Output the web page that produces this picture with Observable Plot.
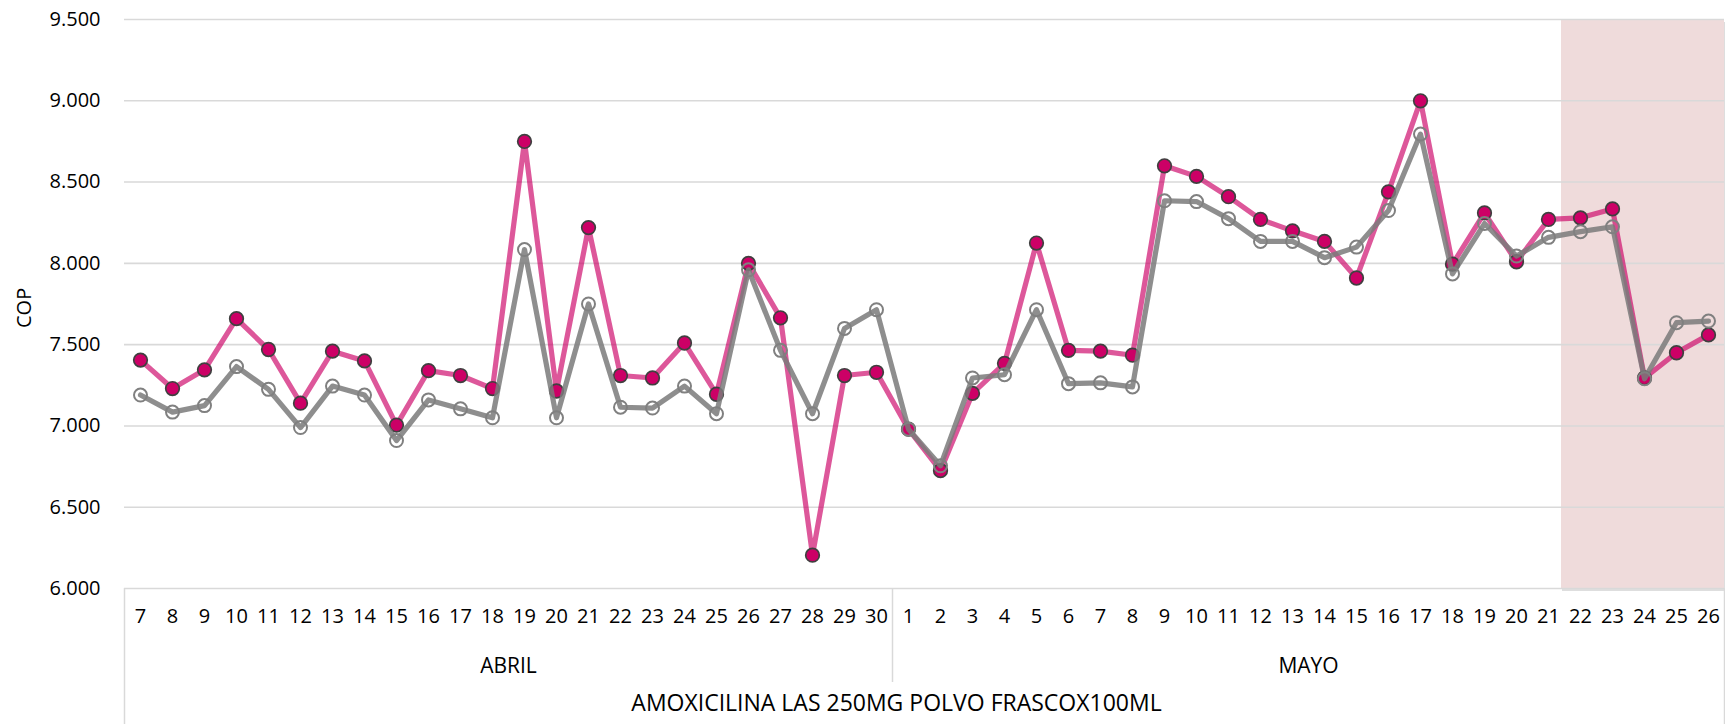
<!DOCTYPE html>
<html><head><meta charset="utf-8">
<script src="https://cdn.jsdelivr.net/npm/d3@7"></script>
<script src="https://cdn.jsdelivr.net/npm/@observablehq/plot@0.6"></script>
<style>body{margin:0;background:#fff} svg{display:block}</style>
</head><body><div id="chart"></div>
<script>
// ---- data ----
const meses = ["ABRIL", "MAYO"];
const diasAbril = [7,8,9,10,11,12,13,14,15,16,17,18,19,20,21,22,23,24,25,26,27,28,29,30];
const diasMayo = [1,2,3,4,5,6,7,8,9,10,11,12,13,14,15,16,17,18,19,20,21,22,23,24,25,26];
const producto = "AMOXICILINA LAS 250MG POLVO FRASCOX100ML";
const serieRosa = [7405,7230,7345,7660,7470,7140,7460,7400,7005,7340,7310,7230,8750,7215,8220,7310,7295,7510,7195,8000,7665,6205,7310,7330,
                   6980,6725,7200,7385,8125,7465,7460,7435,8600,8535,8410,8270,8200,8135,7910,8440,9000,7995,8310,8010,8270,8280,8335,7295,7450,7560];
const serieGris = [7190,7085,7125,7365,7225,6990,7245,7190,6910,7160,7105,7050,8085,7050,7750,7115,7110,7245,7075,7960,7465,7075,7600,7715,
                   6980,6755,7295,7315,7715,7260,7265,7240,8385,8380,8275,8135,8135,8035,8100,8325,8795,7935,8245,8045,8160,8195,8225,7290,7635,7645];
const yTicks = [6000,6500,7000,7500,8000,8500,9000,9500];
const yTitulo = "COP";
const resaltado = {mes: "MAYO", desde: 22, hasta: 26};

// ---- derived tables ----
const cats = [
  ...diasAbril.map(d => ({mes: "ABRIL", dia: d})),
  ...diasMayo.map(d => ({mes: "MAYO", dia: d}))
].map((c, i) => ({...c, i}));
const rosa = cats.map((c, i) => ({i, v: serieRosa[i]}));
const gris = cats.map((c, i) => ({i, v: serieGris[i]}));
const grupos = meses.map(m => {
  const idx = cats.filter(c => c.mes === m).map(c => c.i);
  return {mes: m, ini: d3.min(idx), fin: d3.max(idx), centro: (d3.min(idx) + d3.max(idx)) / 2};
});
const n = cats.length;
const hl = {
  x1: cats.find(c => c.mes === resaltado.mes && c.dia === resaltado.desde).i - 0.5,
  x2: cats.find(c => c.mes === resaltado.mes && c.dia === resaltado.hasta).i + 0.5
};
const bordesExt = [-0.5, n - 0.5];
const bordesMes = grupos.slice(0, -1).map(g => g.fin + 0.5);

const fmt = d => d3.format(",")(d).replace(/,/g, ".");

const chart = Plot.plot({
  width: 1725,
  height: 724,
  marginLeft: 124,
  marginRight: 1,
  marginTop: 19,
  marginBottom: 136,
  style: {fontFamily: "'Open Sans', sans-serif", fontSize: "20px", color: "#000", background: "#fff"},
  x: {type: "linear", domain: [-0.5, n - 0.5], axis: null},
  y: {domain: [6000, 9500], ticks: yTicks, tickFormat: fmt, tickSize: 0, tickPadding: 24, label: null},
  marks: [
    // highlighted range (shadow + box)
    Plot.rect([hl], {x1: "x1", x2: "x2", y1: 6000, y2: 9500, fill: "#000", fillOpacity: 0.13, dy: 3, dx: 1, insetLeft: -3}),
    Plot.rect([hl], {x1: "x1", x2: "x2", y1: 6000, y2: 9500, fill: "#efdbdb", insetLeft: -3}),
    Plot.gridY(yTicks, {stroke: "#d9d9d9", strokeOpacity: 1, strokeWidth: 1.6}),
    Plot.axisY(yTicks, {tickFormat: fmt, tickSize: 0, tickPadding: 24, fontSize: 20, label: null}),
    // category table lines
    Plot.ruleX(bordesExt, {stroke: "#d9d9d9", strokeWidth: 1.5, insetTop: 569, insetBottom: -136}),
    Plot.ruleX(bordesMes, {stroke: "#d9d9d9", strokeWidth: 1.5, insetTop: 569, insetBottom: -94}),
    // series
    Plot.line(rosa, {x: "i", y: "v", stroke: "#cc0066", strokeOpacity: 0.66, strokeWidth: 5.2}),
    Plot.dot(rosa, {x: "i", y: "v", r: 6.8, fill: "#cc0066", stroke: "#404040", strokeWidth: 1.7}),
    Plot.line(gris, {x: "i", y: "v", stroke: "#7a7a7a", strokeOpacity: 0.85, strokeWidth: 5.2}),
    Plot.dot(gris, {x: "i", y: "v", r: 6.5, fill: "none", stroke: "#808080", strokeWidth: 2}),
    // category labels
    Plot.text(cats, {x: "i", text: d => String(d.dia), frameAnchor: "bottom", dy: 34, fontSize: 20, fill: "#000"}),
    Plot.text(grupos, {x: "centro", text: "mes", frameAnchor: "bottom", dy: 84, fontSize: 21, fill: "#000"}),
    Plot.text([producto], {x: (n - 1) / 2, text: d => d, frameAnchor: "bottom", dy: 122, dx: -28, fontSize: 23, fill: "#000"}),
    Plot.text([yTitulo], {text: d => d, frameAnchor: "left", dx: -100, dy: 24, rotate: -90, fontSize: 20, fill: "#000"})
  ]
});
document.getElementById("chart").appendChild(chart);
</script>
</body></html>
